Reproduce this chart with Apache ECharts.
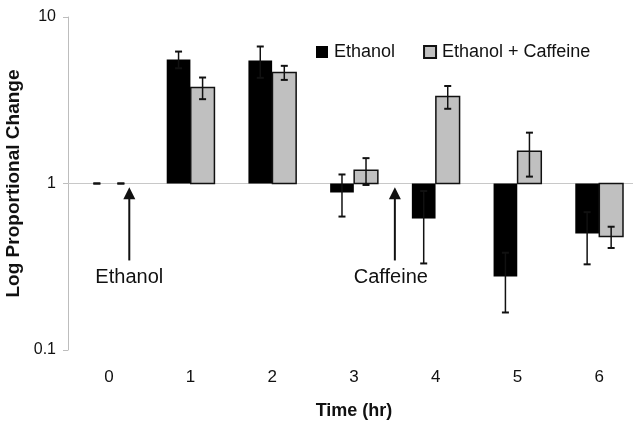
<!DOCTYPE html>
<html>
<head>
<meta charset="utf-8">
<script src="https://cdn.jsdelivr.net/npm/echarts@6/dist/echarts.min.js"></script>
<style>
html,body{margin:0;padding:0;background:#fff;}
#main{width:633px;height:423px;}
</style>
</head>
<body>
<div id="main"></div>
<script>
// ---- data ----
const categories = ['0', '1', '2', '3', '4', '5', '6'];
const seriesNames = ['Ethanol', 'Ethanol + Caffeine'];
const ethanolValues = [1.0, 5.56, 5.48, 0.883, 0.616, 0.276, 0.50];
const ethanolErrors = [0, 0.64, 1.17, 0.25, 0.285, 0.108, 0.173];
const caffeineValues = [1.0, 3.77, 4.64, 1.20, 3.33, 1.56, 0.48];
const caffeineErrors = [0, 0.56, 0.45, 0.22, 0.52, 0.46, 0.07];
const yTicks = [0.1, 1, 10];
const arrowPositions = [0.25, 3.5];     // in category units
const arrowLabels = ['Ethanol', 'Caffeine'];
const arrowTipValue = 0.95;
const arrowTailValue = 0.345;

const FONT = '"Liberation Sans", Arial, sans-serif';

function makeData(values, errors) {
  return values.map((v, i) => [i, v, errors[i]]);
}

function makeRender(offsetFrac, fill, stroke) {
  return function (params, api) {
    const xi = api.value(0), v = api.value(1), e = api.value(2);
    const band = api.size([1, 0])[0];
    const bw = band * 0.29;
    const base = api.coord([xi, 1]);
    const top = api.coord([xi, v]);
    const cx = base[0] + offsetFrac * band;
    const children = [];
    const h = Math.abs(top[1] - base[1]);
    if (h > 0.5) {
      children.push({
        type: 'rect',
        shape: { x: cx - bw / 2, y: Math.min(top[1], base[1]), width: bw, height: h },
        style: { fill: fill, stroke: stroke, lineWidth: stroke ? 1.5 : 0 }
      });
    }
    const hi = api.coord([xi, v + e])[1];
    const lo = api.coord([xi, Math.max(v - e, 0.0001)])[1];
    const cap = 3.5;
    const ls = { stroke: '#111', lineWidth: 1.5 };
    children.push({ type: 'line', shape: { x1: cx, y1: hi, x2: cx, y2: lo }, style: ls });
    children.push({ type: 'line', shape: { x1: cx - cap, y1: hi, x2: cx + cap, y2: hi }, style: { stroke: '#111', lineWidth: 2 } });
    children.push({ type: 'line', shape: { x1: cx - cap, y1: lo, x2: cx + cap, y2: lo }, style: { stroke: '#111', lineWidth: 2 } });
    return { type: 'group', children: children };
  };
}

const chart = echarts.init(document.getElementById('main'), null, { renderer: 'canvas' });
const option = {
  animation: false,
  backgroundColor: '#fff',
  textStyle: { fontFamily: FONT },
  grid: { left: 68, top: 17, bottom: 73, right: -7, containLabel: false, outerBoundsMode: 'none' },
  legend: {
    left: 311, top: 38,
    itemWidth: 12, itemHeight: 12, itemGap: 28,
    icon: 'rect',
    textStyle: { fontSize: 18, color: '#111', fontFamily: FONT, padding: [0, 0, 0, 1] },
    data: seriesNames
  },
  xAxis: {
    type: 'category',
    data: categories,
    axisLine: { show: false },
    axisTick: { show: false },
    axisLabel: { fontSize: 17, color: '#111', margin: 19, fontFamily: FONT },
    name: 'Time (hr)',
    nameLocation: 'middle',
    nameGap: 52,
    nameTextStyle: { fontSize: 18, fontWeight: 'bold', color: '#111', fontFamily: FONT }
  },
  yAxis: {
    type: 'log',
    logBase: 10,
    min: 0.1,
    max: 10,
    splitLine: { show: false },
    axisLine: { show: true, lineStyle: { color: '#bdbdbd', width: 1 } },
    axisTick: { show: true, length: 5, lineStyle: { color: '#bdbdbd' } },
    axisLabel: {
      fontSize: 16, color: '#111', margin: 12, fontFamily: FONT,
      formatter: function (v) { return String(+v.toPrecision(3)); }
    },
    name: 'Log Proportional Change',
    nameLocation: 'middle',
    nameGap: 28,
    nameTextStyle: { fontSize: 19, fontWeight: 'bold', color: '#111', fontFamily: FONT }
  },
  series: [
    {
      name: seriesNames[0],
      type: 'custom',
      renderItem: makeRender(-0.147, '#000', null),
      itemStyle: { color: '#000' },
      encode: { x: 0, y: 1 },
      data: makeData(ethanolValues, ethanolErrors),
      z: 3,
      markLine: {
        silent: true,
        symbol: ['none', 'none'],
        label: { show: false },
        lineStyle: { color: '#c8c8c8', width: 1.2, type: 'solid' },
        data: [{ yAxis: 1 }],
        z: 1
      }
    },
    {
      name: seriesNames[1],
      type: 'custom',
      renderItem: makeRender(0.147, '#c0c0c0', '#111'),
      itemStyle: { color: '#c0c0c0', borderColor: '#111', borderWidth: 1 },
      encode: { x: 0, y: 1 },
      data: makeData(caffeineValues, caffeineErrors),
      z: 3
    }
  ]
};
chart.setOption(option);

// annotation arrows positioned through the axes
const labelShift = [0, -4];
const graphics = [];
arrowPositions.forEach(function (pos, k) {
  const ci = Math.floor(pos);
  const c0 = chart.convertToPixel({ xAxisIndex: 0 }, ci);
  const c1 = chart.convertToPixel({ xAxisIndex: 0 }, ci + 1);
  const x = c0 + (c1 - c0) * (pos - ci);
  const yTip = chart.convertToPixel({ yAxisIndex: 0 }, arrowTipValue);
  const yTail = chart.convertToPixel({ yAxisIndex: 0 }, arrowTailValue);
  graphics.push({
    type: 'line', z: 10,
    shape: { x1: x, y1: yTip + 10, x2: x, y2: yTail },
    style: { stroke: '#111', lineWidth: 2 }
  });
  graphics.push({
    type: 'polygon', z: 10,
    shape: { points: [[x, yTip], [x - 6, yTip + 12], [x + 6, yTip + 12]] },
    style: { fill: '#111' }
  });
  graphics.push({
    type: 'text', z: 10,
    x: x + labelShift[k], y: yTail + 17,
    style: { text: arrowLabels[k], fontSize: 20, fontFamily: FONT, fill: '#111', align: 'center', verticalAlign: 'middle' }
  });
});
chart.setOption({ graphic: graphics });
</script>
</body>
</html>
